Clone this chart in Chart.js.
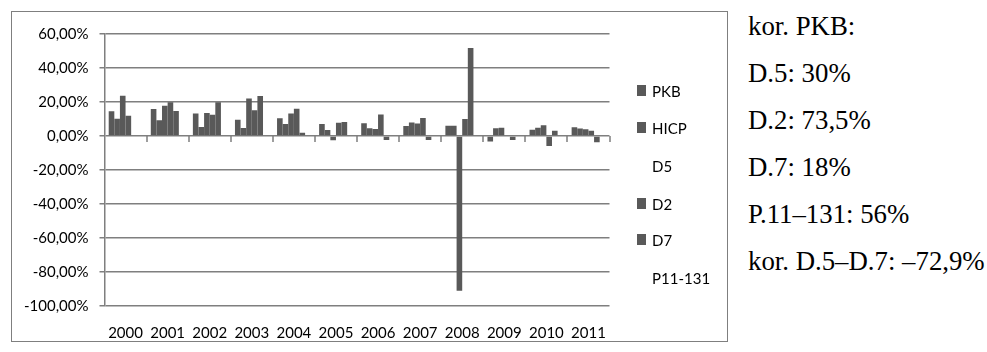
<!DOCTYPE html>
<html>
<head>
<meta charset="utf-8">
<script src="https://cdn.jsdelivr.net/npm/chart.js@4.4.1/dist/chart.umd.min.js"></script>
<style>
  html, body { margin: 0; padding: 0; background: #fff; }
  body { width: 987px; height: 352px; position: relative; overflow: hidden; font-family: Lato, "Open Sans", sans-serif; }
  #frame { position: absolute; left: 11px; top: 11px; width: 715px; height: 329px; border: 1px solid #7f7f7f; }
  #frame canvas { display: block; }
  .leg { position: absolute; left: 637px; height: 20px; line-height: 20px; font-size: 15px; color: #000; white-space: nowrap; }
  .leg .sw { position: absolute; left: 0; top: 4px; width: 9px; height: 11px; background: #595959; }
  .leg .tx { position: absolute; left: 15px; top: 0; }
  #notes { position: absolute; left: 748px; top: 3px; font-family: "Liberation Serif", "Times New Roman", serif; font-size: 26.8px; line-height: 47.1px; color: #000; white-space: nowrap; }
</style>
</head>
<body>
<div id="frame"><canvas id="chart" width="715" height="329"></canvas></div>
<div id="legend"></div>
<div id="notes">
  <div>kor. PKB:</div>
  <div>D.5: 30%</div>
  <div>D.2: 73,5%</div>
  <div>D.7: 18%</div>
  <div>P.11–131: 56%</div>
  <div>kor. D.5–D.7: –72,9%</div>
</div>
<script>
// Year-on-year changes, in percent
const years = ['2000', '2001', '2002', '2003', '2004', '2005', '2006', '2007', '2008', '2009', '2010', '2011'];
const pkb  = [14.5, 15.9, 13.3,  9.6, 10.4,  7.0,  7.5,  5.9,   6.1, -3.3,  3.7,  5.1];
const hicp = [10.1,  9.2,  5.3,  4.7,  7.0,  3.5,  4.5,  8.0,   6.1,  4.6,  4.9,  4.4];
const d5   = [23.7, 17.8, 13.5, 22.0, 13.3, -2.5,  4.1,  7.3, -91.0,  4.9,  6.3,  3.9];
const d2   = [11.9, 19.8, 12.5, 15.1, 16.0,  7.8, 12.7, 10.6,  10.0,  0.0, -5.9,  3.1];
const d7   = [-0.5, 14.7, 19.8, 23.5,  1.9,  8.2, -2.4, -2.4,  51.8, -2.3,  3.1, -3.7];
const p11  = [ 0.0,  0.0,  0.0,  0.0,  0.0,  0.0,  0.0,  0.0,   0.0,  0.0,  0.0,  0.0];

const seriesNames = ['PKB', 'HICP', 'D5', 'D2', 'D7', 'P11-131'];
const seriesData = [pkb, hicp, d5, d2, d7, p11];
const seriesSwatch = [true, true, false, true, true, false];

const BAR = '#595959';
const GRID = '#7f7f7f';
const FONT = { family: 'Lato, "Open Sans", sans-serif', size: 15 };

// Small tick marks on the zero line between categories
const zeroLineTicks = {
  id: 'zeroLineTicks',
  afterDatasetsDraw(chart) {
    const { ctx, chartArea, scales } = chart;
    const y0 = scales.y.getPixelForValue(0);
    const n = years.length;
    const step = (chartArea.right - chartArea.left) / n;
    ctx.save();
    ctx.strokeStyle = GRID;
    ctx.lineWidth = 1.5;
    ctx.beginPath();
    for (let i = 1; i <= n; i++) {
      const px = Math.round(chartArea.left + i * step);
      ctx.moveTo(px, y0);
      ctx.lineTo(px, y0 + 6);
    }
    ctx.stroke();
    ctx.restore();
  }
};

new Chart(document.getElementById('chart'), {
  type: 'bar',
  data: {
    labels: years,
    datasets: seriesNames.map((name, i) => ({
      label: name,
      data: seriesData[i],
      backgroundColor: BAR,
      borderWidth: 0,
      categoryPercentage: 0.8,
      barPercentage: 1.0
    }))
  },
  options: {
    responsive: false,
    animation: false,
    devicePixelRatio: 1,
    layout: { padding: { top: 22, right: 117.5, bottom: 0, left: 0 } },
    plugins: { legend: { display: false }, tooltip: { enabled: false } },
    scales: {
      x: {
        grid: { display: false },
        border: { display: false },
        ticks: { font: FONT, color: '#000', padding: 10, maxRotation: 0, autoSkip: false },
        afterFit(scale) { scale.height = 35; }
      },
      y: {
        min: -100,
        max: 60,
        ticks: {
          stepSize: 20,
          font: FONT,
          color: '#000',
          padding: 11,
          callback: (v) => v.toFixed(2).replace('.', ',') + '%'
        },
        grid: { color: GRID, lineWidth: 1.5, tickLength: 5, drawTicks: true },
        border: { display: true, color: GRID, width: 1.5 },
        afterFit(scale) { scale.width = 92.5; }
      }
    }
  },
  plugins: [zeroLineTicks]
});

// Legend column beside the plot
const legendCenters = [90.5, 128, 165.7, 203.5, 240, 278.3];
const legendBox = document.getElementById('legend');
seriesNames.forEach((name, i) => {
  const item = document.createElement('div');
  item.className = 'leg';
  item.style.top = (legendCenters[i] - 10) + 'px';
  if (seriesSwatch[i]) {
    const sw = document.createElement('span');
    sw.className = 'sw';
    item.appendChild(sw);
  }
  const tx = document.createElement('span');
  tx.className = 'tx';
  tx.textContent = name;
  item.appendChild(tx);
  legendBox.appendChild(item);
});
</script>
</body>
</html>
